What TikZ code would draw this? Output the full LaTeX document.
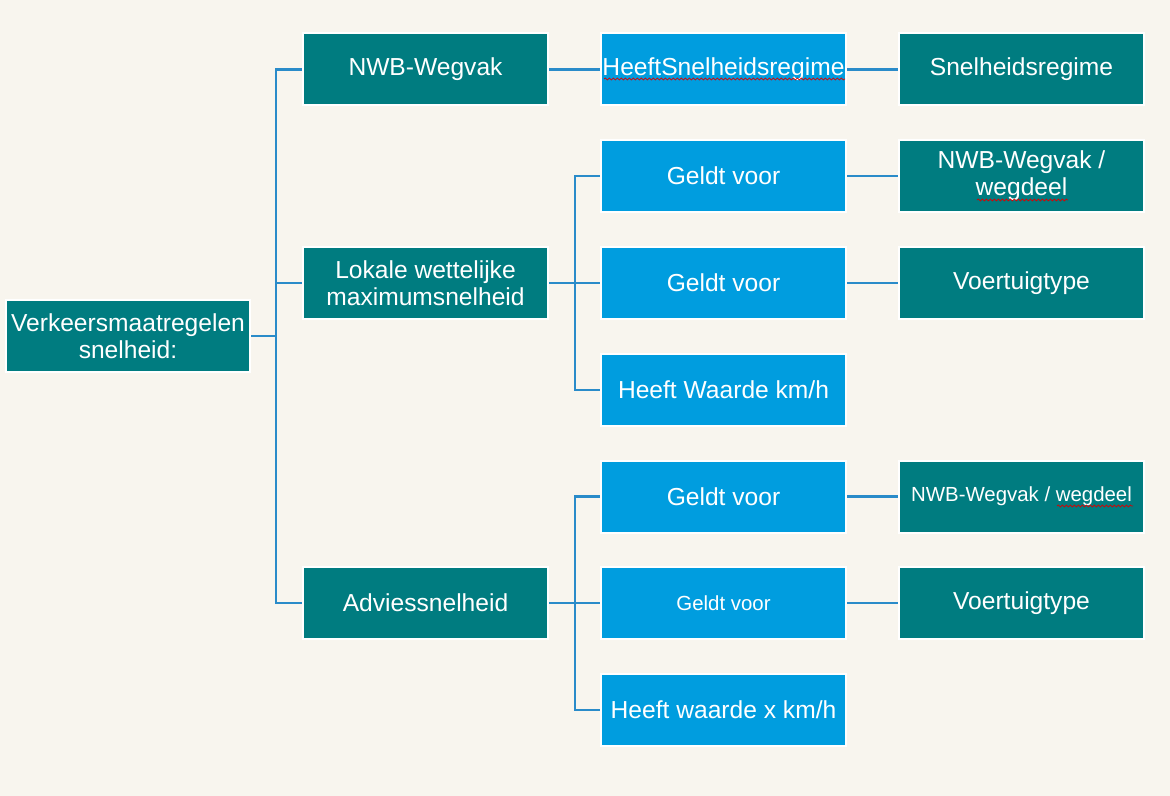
\documentclass[tikz,border=0pt]{standalone}
\usepackage{fontspec}
\setmainfont{Liberation Sans}
\usetikzlibrary{decorations.pathmorphing}
\definecolor{bg}{HTML}{F8F5EE}
\definecolor{teal}{HTML}{007C80}
\definecolor{sky}{HTML}{009DDF}
\definecolor{conn}{HTML}{2A8BC9}
\tikzset{
  box/.style={draw=white, line width=1pt, text=white, minimum width=122.5pt, minimum height=36pt, inner sep=0pt, align=center, font=\fontsize{12.3}{13.5}\selectfont},
  tealbox/.style={box, fill=teal},
  bluebox/.style={box, fill=sky},
  small/.style={font=\fontsize{10.2}{12}\selectfont},
  wire/.style={draw=conn, line width=1.2pt},
  squiggle/.style={draw=red!85!black, line width=0.35pt, decorate, decoration={snake, segment length=2pt, amplitude=0.5pt}}
}
\begin{document}
\begin{tikzpicture}[x=0.5pt,y=-0.5pt]
\fill[bg] (0,0) rectangle (1170,796);
\useasboundingbox (0,0) rectangle (1170,796);

% level 0
\node[tealbox, minimum width=122pt] (root) at (128,336) {Verkeersmaatregelen\\snelheid:};

% level 1
\node[tealbox] (nwb) at (425.5,69.5) {NWB-Wegvak};
\node[tealbox] (lok) at (425.5,283) {Lokale wettelijke\\maximumsnelheid};
\node[tealbox] (adv) at (425.5,603) {Adviessnelheid};

% level 2
\node[bluebox] (hsr) at (723.5,69.5) {HeeftSnelheidsregime};
\node[bluebox] (g1) at (723.5,176) {Geldt voor};
\node[bluebox] (g2) at (723.5,283) {Geldt voor};
\node[bluebox] (hw1) at (723.5,390) {Heeft Waarde km/h};
\node[bluebox] (g3) at (723.5,496.5) {Geldt voor};
\node[bluebox, small] (g4) at (723.5,603) {Geldt voor};
\node[bluebox] (hw2) at (723.5,710) {Heeft waarde x km/h};

% level 3
\node[tealbox] (sr) at (1021.5,69.5) {Snelheidsregime};
\node[tealbox] (w1) at (1021.5,176) {NWB-Wegvak /\\wegdeel};
\node[tealbox] (v1) at (1021.5,283) {Voertuigtype};
\node[tealbox, small] (w2) at (1021.5,496.5) {NWB-Wegvak / wegdeel};
\node[tealbox] (v2) at (1021.5,603) {Voertuigtype};

% bus coordinates
\coordinate (b0) at (276,336);
\coordinate (b1) at (575,283);
\coordinate (b2) at (575,603);

% connectors
\draw[wire] (root.east) -- (b0);
\draw[wire] (b0) |- (nwb.west);
\draw[wire] (b0) |- (lok.west);
\draw[wire] (b0) |- (adv.west);

\draw[wire] (nwb.east) -- (hsr.west);
\draw[wire] (hsr.east) -- (sr.west);

\draw[wire] (lok.east) -- (b1);
\draw[wire] (b1) |- (g1.west);
\draw[wire] (b1) -- (g2.west);
\draw[wire] (b1) |- (hw1.west);

\draw[wire] (adv.east) -- (b2);
\draw[wire] (b2) |- (g3.west);
\draw[wire] (b2) -- (g4.west);
\draw[wire] (b2) |- (hw2.west);

\draw[wire] (g1.east) -- (w1.west);
\draw[wire] (g2.east) -- (v1.west);
\draw[wire] (g3.east) -- (w2.west);
\draw[wire] (g4.east) -- (v2.west);

% spell-check underlines
\draw[squiggle] (604,79) -- (845,79);
\draw[squiggle] (977,200) -- (1068,200);
\draw[squiggle] (1057,506) -- (1133,506);
\end{tikzpicture}
\end{document}
